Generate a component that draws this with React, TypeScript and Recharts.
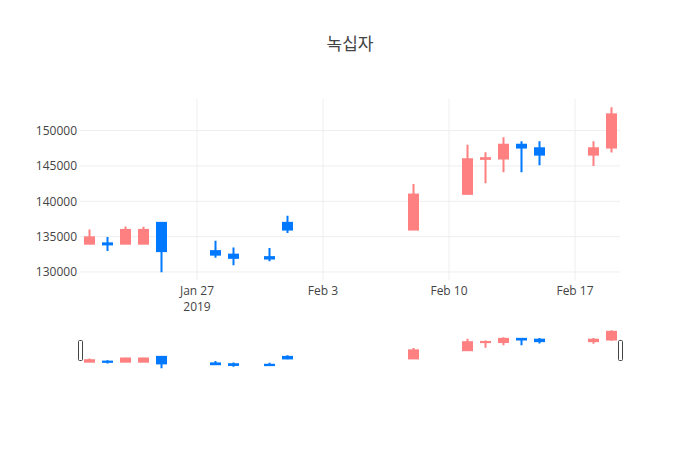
import React from 'react';
import { ComposedChart, Bar, XAxis, YAxis, CartesianGrid } from 'recharts';

const dates = [
  '2019-01-21', '2019-01-22', '2019-01-23', '2019-01-24', '2019-01-25',
  '2019-01-28', '2019-01-29', '2019-01-31', '2019-02-01', '2019-02-08',
  '2019-02-11', '2019-02-12', '2019-02-13', '2019-02-14', '2019-02-15',
  '2019-02-18', '2019-02-19',
];
const openValues = [134000, 134050, 134000, 134000, 136950, 132950, 132450, 132100, 136950, 136000, 141050, 146000, 146050, 148000, 147500, 146600, 147600];
const highValues = [136000, 134950, 136450, 136400, 136950, 134400, 133450, 133400, 137950, 142450, 148000, 146950, 149050, 148500, 148500, 148500, 153300];
const lowValues = [134000, 132950, 134000, 134000, 129950, 132000, 130950, 131500, 135500, 136000, 141050, 142550, 144100, 144100, 145100, 145000, 146900];
const closeValues = [134900, 133900, 135950, 135950, 132950, 132450, 132000, 131900, 136000, 140950, 145950, 146100, 148000, 147600, 146600, 147500, 152300];
const yTicks = [130000, 135000, 140000, 145000, 150000];
const xTickDates = ['2019-01-27', '2019-02-03', '2019-02-10', '2019-02-17'];
const yDomain: [number, number] = [128780, 154470];
const title = '녹십자';

const DAY = 86400000;
const MONTHS = ['Jan', 'Feb', 'Mar', 'Apr', 'May', 'Jun', 'Jul', 'Aug', 'Sep', 'Oct', 'Nov', 'Dec'];
const data = dates.map((d, i) => ({
  t: Date.parse(d),
  open: openValues[i],
  high: highValues[i],
  low: lowValues[i],
  close: closeValues[i],
  range: [lowValues[i], highValues[i]],
}));
const xTicks = xTickDates.map((d) => Date.parse(d));
const xDomain: [number, number] = [data[0].t - DAY / 2, data[data.length - 1].t + DAY / 2];

const UP = '#FF8080';
const DOWN = '#0078FF';
const FONT = '"Open Sans", verdana, arial, "Noto Sans CJK KR", sans-serif';

const Candle = (props: any) => {
  const { x, y, width, height, payload } = props;
  if (!payload || height == null) return null;
  const { open, high, low, close } = payload;
  const cx = x + width / 2;
  const ppu = (high - low) > 0 ? height / (high - low) : 0;
  const color = close >= open ? UP : DOWN;
  const bodyTop = y + (high - Math.max(open, close)) * ppu;
  const bodyBottom = y + (high - Math.min(open, close)) * ppu;
  const bw = 9;
  return (
    <g>
      <line x1={cx} x2={cx} y1={y} y2={y + height} stroke={color} strokeWidth={2} />
      <rect x={cx - bw / 2} y={bodyTop} width={bw} height={Math.max(bodyBottom - bodyTop, 0)} fill={color} stroke={color} strokeWidth={2} />
    </g>
  );
};

const XTick = (props: any) => {
  const { x, y, payload } = props;
  const d = new Date(payload.value);
  const l1 = `${MONTHS[d.getUTCMonth()]} ${d.getUTCDate()}`;
  const showYear = d.getUTCMonth() === 0 && d.getUTCDate() === 27;
  return (
    <text x={x} y={y} textAnchor="middle" fill="#444" fontSize={12} fontFamily={FONT}>
      <tspan x={x} dy="0.71em">{l1}</tspan>
      {showYear ? <tspan x={x} dy="1.3em">{d.getUTCFullYear()}</tspan> : null}
    </text>
  );
};

const handleStyle: React.CSSProperties = {
  position: 'absolute',
  width: 5,
  height: 21,
  boxSizing: 'border-box',
  border: '1px solid #444',
  borderRadius: 1.5,
  background: '#fff',
  top: 340,
};

const hGen = (args: any) => {
  const off = args?.offset;
  if (!off) return [];
  return yTicks.map((v) => off.top + off.height * (1 - (v - yDomain[0]) / (yDomain[1] - yDomain[0])));
};
const vGen = (args: any) => {
  const off = args?.offset;
  if (!off) return [];
  return xTicks.map((v) => off.left + off.width * ((v - xDomain[0]) / (xDomain[1] - xDomain[0])));
};

export default function App() {
  return (
    <div style={{ position: 'absolute', left: 0, top: 0, width: 700, height: 450, background: '#fff' }}>
      <div style={{ position: 'absolute', left: 0, top: 33, width: 700, textAlign: 'center', fontSize: 17, lineHeight: '22px', color: '#444', fontFamily: FONT }}>
        {title}
      </div>
      <div style={{ position: 'absolute', left: 0, top: 0 }}>
        <ComposedChart width={700} height={450} data={data} margin={{ top: 99, right: 80, bottom: 129.4, left: 0 }}>
          <CartesianGrid
            stroke="#eee"
            strokeWidth={1}
            horizontalCoordinatesGenerator={hGen}
            verticalCoordinatesGenerator={vGen}
          />
          <XAxis
            dataKey="t"
            type="number"
            domain={xDomain}
            ticks={xTicks}
            allowDataOverflow
            axisLine={false}
            tickLine={false}
            tickSize={0}
            tickMargin={6}
            height={40}
            tick={<XTick />}
            interval={0}
          />
          <YAxis
            type="number"
            domain={yDomain}
            ticks={yTicks}
            allowDataOverflow
            axisLine={false}
            tickLine={false}
            tickSize={0}
            tickMargin={3}
            width={80}
            interval={0}
            tick={{ fill: '#444', fontSize: 12, fontFamily: FONT }}
          />
          <Bar dataKey="range" barSize={11} shape={<Candle />} isAnimationActive={false} />
        </ComposedChart>
      </div>
      <div style={{ position: 'absolute', left: 0, top: 0 }}>
        <ComposedChart width={700} height={450} data={data} margin={{ top: 328.3, right: 80, bottom: 79.8, left: 80 }}>
          <XAxis dataKey="t" type="number" domain={xDomain} allowDataOverflow hide />
          <YAxis type="number" domain={yDomain} allowDataOverflow hide />
          <Bar dataKey="range" barSize={11} shape={<Candle />} isAnimationActive={false} />
        </ComposedChart>
      </div>
      <div style={{ ...handleStyle, left: 77.5 }} />
      <div style={{ ...handleStyle, left: 617.5 }} />
    </div>
  );
}
